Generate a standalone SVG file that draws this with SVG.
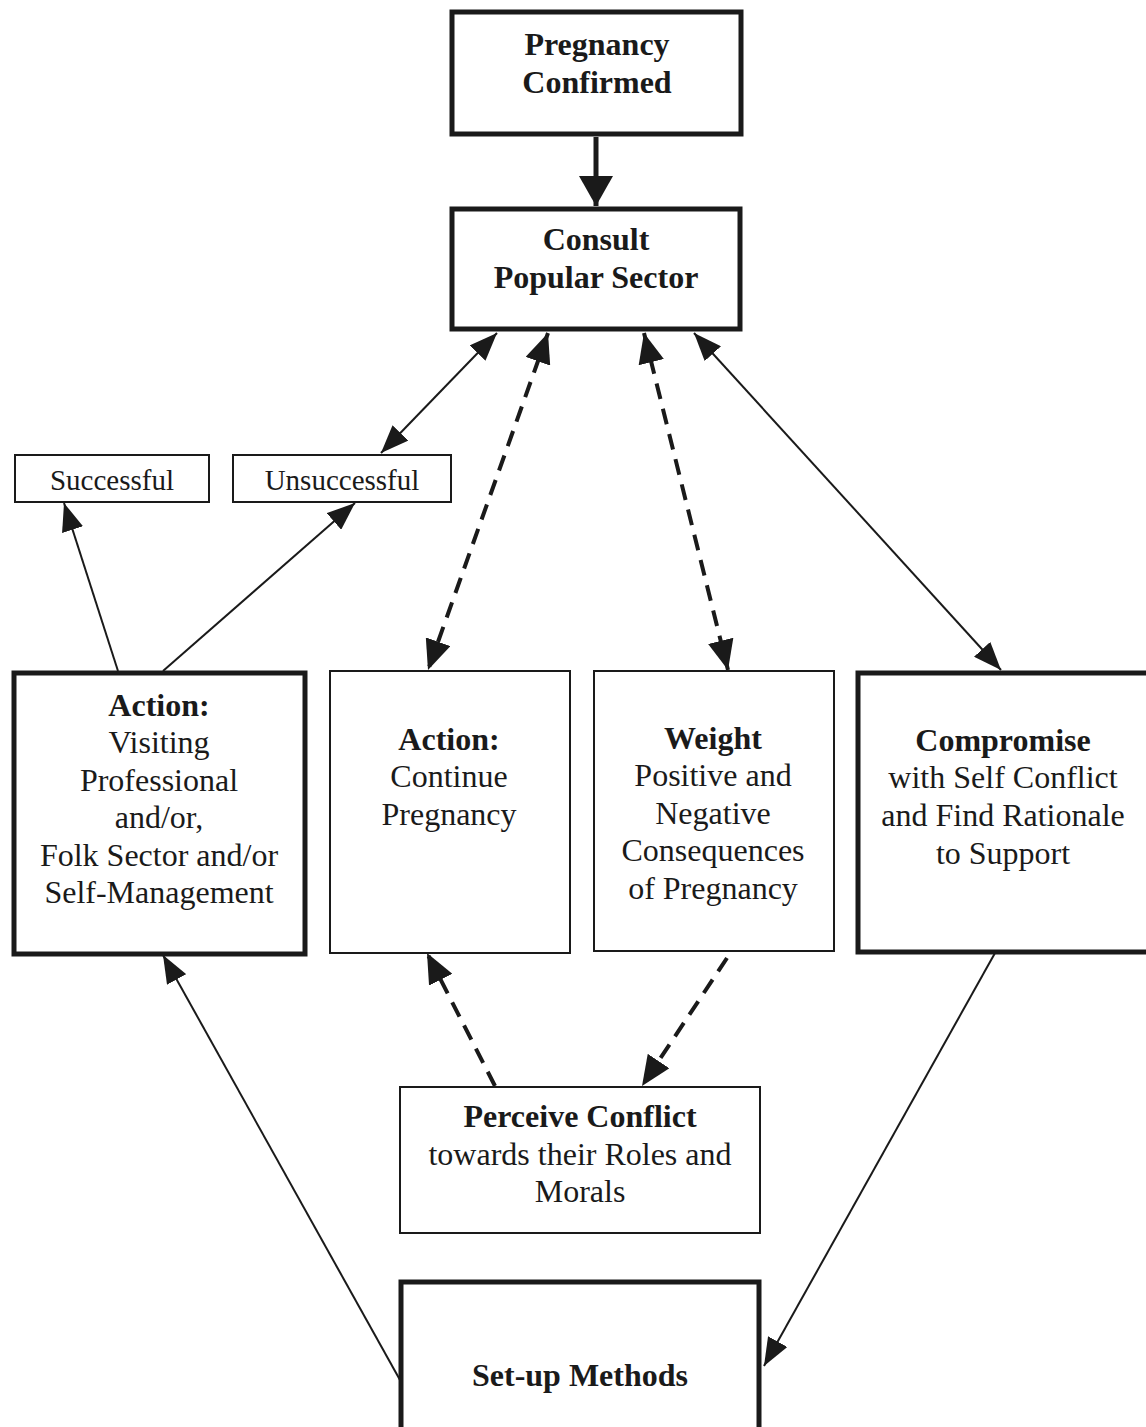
<svg xmlns="http://www.w3.org/2000/svg" width="1146" height="1427" viewBox="0 0 1146 1427">
<style>
.box{fill:#fff;stroke:#1a1a1a}
.thick{stroke-width:5}
.thin{stroke-width:2}
text{font-family:"Liberation Serif","Times New Roman",serif;fill:#1a1a1a;text-anchor:middle}
.t{font-size:32px}
.b{font-weight:bold}
.s{font-size:29px}
.ln{stroke:#1a1a1a;fill:none;stroke-width:2}
.dash{stroke:#1a1a1a;fill:none;stroke-width:4;stroke-dasharray:16 10}
</style>
<defs>
<marker id="ah" markerUnits="userSpaceOnUse" markerWidth="28" markerHeight="22" refX="28" refY="11" orient="auto-start-reverse" viewBox="0 0 28 22"><path d="M0,0 L28,11 L0,22 z" fill="#1a1a1a"/></marker>
<marker id="ahb" markerUnits="userSpaceOnUse" markerWidth="30" markerHeight="26" refX="30" refY="13" orient="auto-start-reverse" viewBox="0 0 30 26"><path d="M0,0 L30,13 L0,26 z" fill="#1a1a1a"/></marker>
<marker id="ahc" markerUnits="userSpaceOnUse" markerWidth="30" markerHeight="34" refX="30" refY="17" orient="auto" viewBox="0 0 30 34"><path d="M0,0 L30,17 L0,34 z" fill="#1a1a1a"/></marker>
</defs>
<rect width="1146" height="1427" fill="#fff"/>
<g id="connectors">
<line x1="596" y1="137" x2="596" y2="206" stroke="#1a1a1a" stroke-width="5" marker-end="url(#ahc)"/>
<line class="ln" x1="497" y1="333" x2="381" y2="453" marker-start="url(#ah)" marker-end="url(#ah)"/>
<line class="dash" x1="548" y1="333" x2="428" y2="670" marker-start="url(#ahb)" marker-end="url(#ahb)"/>
<line class="dash" x1="644" y1="333" x2="728" y2="670" marker-start="url(#ahb)" marker-end="url(#ahb)"/>
<line class="ln" x1="694" y1="333" x2="1001" y2="670" marker-start="url(#ah)" marker-end="url(#ah)"/>
<line class="ln" x1="118" y1="671" x2="64" y2="503" marker-end="url(#ah)"/>
<line class="ln" x1="163" y1="671" x2="355" y2="503" marker-end="url(#ah)"/>
<line class="dash" x1="495" y1="1086" x2="427" y2="953" marker-end="url(#ahb)"/>
<line class="dash" x1="727" y1="958" x2="642" y2="1086" marker-end="url(#ahb)"/>
<line class="ln" x1="400" y1="1380" x2="163" y2="955" marker-end="url(#ah)"/>
<line class="ln" x1="995" y1="953" x2="764" y2="1366" marker-end="url(#ah)"/>
</g>
<g id="pregnancy-confirmed">
<rect class="box thick" x="452" y="12" width="289" height="122"/>
<text class="t b" x="597" y="55">Pregnancy</text>
<text class="t b" x="597" y="93">Confirmed</text>
</g>
<g id="consult-popular-sector">
<rect class="box thick" x="452" y="209" width="288" height="120"/>
<text class="t b" x="596" y="250">Consult</text>
<text class="t b" x="596" y="288">Popular Sector</text>
</g>
<g id="successful">
<rect class="box thin" x="15" y="455" width="194" height="47"/>
<text class="s" x="112" y="490">Successful</text>
</g>
<g id="unsuccessful">
<rect class="box thin" x="233" y="455" width="218" height="47"/>
<text class="s" x="342" y="490">Unsuccessful</text>
</g>
<g id="action-visiting">
<rect class="box thick" x="14" y="673" width="291" height="281"/>
<text class="t b" x="159" y="716">Action:</text>
<text class="t" x="159" y="753">Visiting</text>
<text class="t" x="159" y="791">Professional</text>
<text class="t" x="159" y="828">and/or,</text>
<text class="t" x="159" y="866">Folk Sector and/or</text>
<text class="t" x="159" y="903">Self-Management</text>
</g>
<g id="action-continue">
<rect class="box thin" x="330" y="671" width="240" height="282"/>
<text class="t b" x="449" y="750">Action:</text>
<text class="t" x="449" y="787">Continue</text>
<text class="t" x="449" y="825">Pregnancy</text>
</g>
<g id="weight">
<rect class="box thin" x="594" y="671" width="240" height="280"/>
<text class="t b" x="713" y="749">Weight</text>
<text class="t" x="713" y="786">Positive and</text>
<text class="t" x="713" y="824">Negative</text>
<text class="t" x="713" y="861">Consequences</text>
<text class="t" x="713" y="899">of Pregnancy</text>
</g>
<g id="compromise">
<rect class="box thick" x="858" y="673" width="292" height="279"/>
<text class="t b" x="1003" y="751">Compromise</text>
<text class="t" x="1003" y="788">with Self Conflict</text>
<text class="t" x="1003" y="826">and Find Rationale</text>
<text class="t" x="1003" y="864">to Support</text>
</g>
<g id="perceive-conflict">
<rect class="box thin" x="400" y="1087" width="360" height="146"/>
<text class="t b" x="580" y="1127">Perceive Conflict</text>
<text class="t" x="580" y="1165">towards their Roles and</text>
<text class="t" x="580" y="1202">Morals</text>
</g>
<g id="set-up-methods">
<rect class="box thick" x="401" y="1282" width="358" height="150"/>
<text class="t b" x="580" y="1386">Set-up Methods</text>
</g>
</svg>
